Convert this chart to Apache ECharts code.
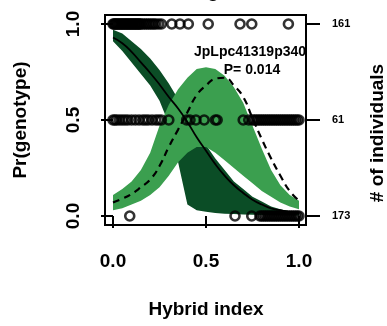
<!DOCTYPE html>
<html>
<head>
<meta charset="utf-8">
<script src="https://cdn.jsdelivr.net/npm/echarts@6/dist/echarts.min.js"></script>
<style>html,body{margin:0;padding:0;background:#fff;}#c{width:387px;height:326px;}</style>
</head>
<body>
<div id="c"></div>
<script>
// x grid for the curves / bands
const hybridGrid = [0,0.05,0.1,0.15,0.2,0.25,0.3,0.35,0.4,0.45,0.5,0.55,0.6,0.65,0.7,0.75,0.8,0.85,0.9,0.95,1.0];
// homozygote (decreasing) estimate and its band
const homoFit   = [0.93,0.90,0.855,0.80,0.745,0.685,0.62,0.56,0.49,0.41,0.34,0.27,0.21,0.16,0.12,0.085,0.06,0.04,0.03,0.02,0.015];
const homoUpper = [0.97,0.95,0.91,0.87,0.82,0.76,0.69,0.61,0.53,0.45,0.37,0.30,0.24,0.18,0.14,0.10,0.075,0.05,0.035,0.025,0.02];
const homoLower = [0.91,0.86,0.80,0.74,0.68,0.60,0.48,0.28,0.06,0.03,0.022,0.016,0.012,0.01,0.008,0.006,0.005,0.004,0.003,0.002,0.002];
// heterozygote (humped) estimate and its band
const hetFit    = [0.07,0.09,0.115,0.15,0.19,0.26,0.36,0.45,0.54,0.63,0.68,0.715,0.72,0.68,0.62,0.51,0.40,0.30,0.21,0.13,0.08];
const hetUpper  = [0.11,0.14,0.18,0.24,0.33,0.47,0.58,0.66,0.72,0.765,0.775,0.765,0.73,0.67,0.59,0.47,0.35,0.24,0.16,0.11,0.08];
const hetLower  = [0.03,0.04,0.06,0.08,0.11,0.15,0.21,0.28,0.33,0.36,0.36,0.33,0.29,0.25,0.21,0.17,0.13,0.10,0.07,0.05,0.035];
// individuals: hybrid index for each genotype row
const rowTop = [0,0.005,0.01,0.015,0.02,0.025,0.03,0.035,0.04,0.045,0.05,0.055,0.06,0.065,0.07,0.075,0.08,0.085,0.09,0.095,0.1,0.105,0.11,0.115,0.12,0.125,0.13,0.135,0.14,0.145,0.15,0.16,0.17,0.18,0.19,0.2,0.21,0.22,0.23,0.245,0.26,0.316,0.36,0.405,0.512,0.683,0.746,0.943];
const rowMid = [0,0.01,0.02,0.035,0.05,0.065,0.08,0.1,0.12,0.14,0.16,0.175,0.19,0.21,0.23,0.245,0.26,0.30,0.396,0.414,0.446,0.49,0.55,0.56,0.70,0.73,0.75,0.76,0.77,0.78,0.79,0.8,0.81,0.82,0.83,0.84,0.85,0.86,0.87,0.88,0.89,0.9,0.91,0.92,0.93,0.94,0.95,0.96,0.97,0.98,0.99,1.0];
const rowBot = [0.09,0.656,0.746,0.79,0.80,0.81,0.82,0.83,0.84,0.85,0.86,0.87,0.88,0.89,0.9,0.91,0.92,0.93,0.94,0.95,0.96,0.97,0.98,0.99,1.0];
const rowLevels = [1, 0.5, 0];
const leftTicks = ['0.0','0.5','1.0'];
const rightTicks = ['173','61','161'];
const xTicks = ['0.0','0.5','1.0'];
const markerName = 'JpLpc41319p340';
const pText = 'P= 0.014';

const darkGreen = '#0b4d26';
const lightGreen = '#3b9f4f';

function band(upper, lower, color) {
  return {
    type: 'custom', data: [[0, 0]], clip: false, silent: true,
    renderItem: function (params, api) {
      const pts = [];
      for (let i = 0; i < hybridGrid.length; i++) pts.push(api.coord([hybridGrid[i], upper[i]]));
      for (let i = hybridGrid.length - 1; i >= 0; i--) pts.push(api.coord([hybridGrid[i], lower[i]]));
      return { type: 'polygon', shape: { points: pts }, style: { fill: color } };
    }
  };
}
function pts(xs, y) { return xs.map(x => [x, y]); }
function line(ys) { return hybridGrid.map((x, i) => [x, ys[i]]); }

const chart = echarts.init(document.getElementById('c'), null, { renderer: 'canvas' });
const font = 'Liberation Sans, Arial, sans-serif';
chart.setOption({
  animation: false,
  grid: { left: 113, top: 24, width: 186, height: 192 },
  xAxis: {
    type: 'value', min: 0, max: 1, interval: 0.5, offset: 9,
    axisLine: { show: false }, splitLine: { show: false },
    axisTick: { length: 12, lineStyle: { color: '#000', width: 2 } },
    axisLabel: { margin: 27, color: '#000', fontSize: 19, fontWeight: 'bold', fontFamily: font,
      formatter: v => xTicks[Math.round(v * 2)] }
  },
  yAxis: [{
    type: 'value', min: 0, max: 1, interval: 0.5, offset: 8, position: 'left',
    axisLine: { show: false }, splitLine: { show: false },
    axisTick: { show: true, length: 12, lineStyle: { color: '#000', width: 2 } },
    axisLabel: { rotate: 90, margin: 22, color: '#000', fontSize: 19, fontWeight: 'bold', fontFamily: font,
      formatter: v => leftTicks[Math.round(v * 2)] }
  }, {
    type: 'value', min: 0, max: 1, interval: 0.5, offset: 7, position: 'right',
    axisLine: { show: false }, splitLine: { show: false },
    axisTick: { show: true, length: 14, lineStyle: { color: '#000', width: 2 } },
    axisLabel: { margin: 26, color: '#000', fontSize: 11, fontWeight: 'bold', fontFamily: font,
      formatter: v => rightTicks[Math.round(v * 2)] }
  }],
  series: [
    band(homoUpper, homoLower, darkGreen),
    band(hetUpper, hetLower, lightGreen),
    { type: 'line', data: line(homoFit), smooth: true, symbol: 'none', clip: false,
      lineStyle: { color: '#000', width: 1.8 } },
    { type: 'line', data: line(hetFit), smooth: true, symbol: 'none', clip: false,
      lineStyle: { color: '#000', width: 2.2, type: [7, 5] } },
    ...[rowTop, rowMid, rowBot].map((xs, k) => ({
      type: 'scatter', data: pts(xs, rowLevels[k]), symbol: 'circle', symbolSize: 9, clip: false,
      itemStyle: { color: 'rgba(255,255,255,0)', borderColor: '#000', borderWidth: 2.6 }
    }))
  ],
  graphic: [
    { type: 'text', left: 194, top: 45, z: 50, style: { text: markerName, fontSize: 14, fontWeight: 'bold', fontFamily: font, fill: '#000' } },
    { type: 'rect', shape: { x: 307, y: 42, width: 14, height: 22 }, z: 60, style: { fill: '#fff' } },
    { type: 'text', x: 252, y: 70, z: 50, style: { text: pText, fontSize: 14, fontWeight: 'bold', fontFamily: font, fill: '#000', align: 'center', verticalAlign: 'middle' } },
    { type: 'rect', shape: { x: 105, y: 15, width: 201, height: 210 }, z: 70, style: { fill: 'none', stroke: '#000', lineWidth: 2 } },
    { type: 'text', x: 206, y: 310, z: 50, style: { text: 'Hybrid index', fontSize: 19, fontWeight: 'bold', fontFamily: font, fill: '#000', align: 'center', verticalAlign: 'middle' } },
    { type: 'text', x: 21, y: 120, rotation: Math.PI / 2, z: 50, style: { text: 'Pr(genotype)', fontSize: 19, fontWeight: 'bold', fontFamily: font, fill: '#000', align: 'center', verticalAlign: 'middle' } },
    { type: 'text', x: 378, y: 133, rotation: Math.PI / 2, z: 50, style: { text: '# of individuals', fontSize: 19, fontWeight: 'bold', fontFamily: font, fill: '#000', align: 'center', verticalAlign: 'middle' } },
    { type: 'text', x: 213, y: -18, z: 50, style: { text: 'g', fontSize: 19, fontWeight: 'bold', fontFamily: font, fill: '#000', align: 'center', verticalAlign: 'top' } }
  ]
});
</script>
</body>
</html>
